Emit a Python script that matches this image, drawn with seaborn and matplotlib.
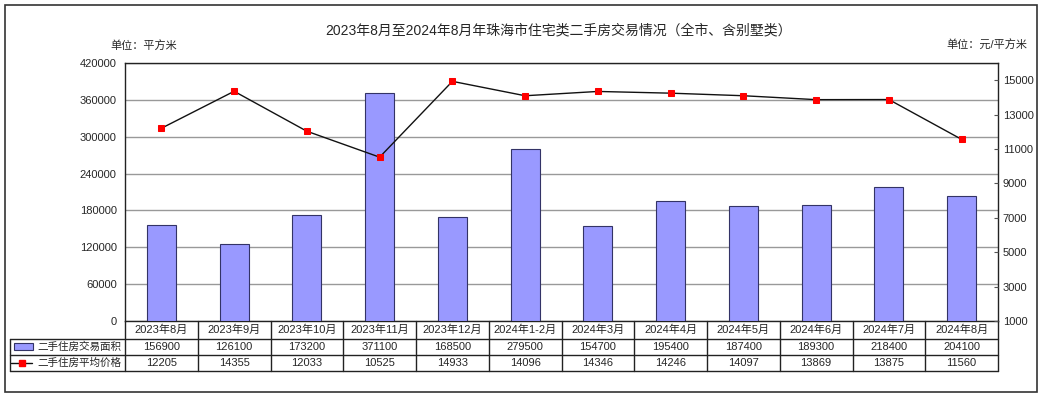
import numpy as np
import pandas as pd
import matplotlib
matplotlib.use('Agg')
import matplotlib.pyplot as plt
import matplotlib.transforms as mtransforms
import seaborn as sns
from matplotlib.patches import Rectangle
from matplotlib.lines import Line2D

months = ['2023年8月', '2023年9月', '2023年10月', '2023年11月', '2023年12月', '2024年1-2月',
          '2024年3月', '2024年4月', '2024年5月', '2024年6月', '2024年7月', '2024年8月']
area = [156900, 126100, 173200, 371100, 168500, 279500, 154700, 195400, 187400, 189300, 218400, 204100]
price = [12205, 14355, 12033, 10525, 14933, 14096, 14346, 14246, 14097, 13869, 13875, 11560]
area_label = '二手住房交易面积'
price_label = '二手住房平均价格'

sns.set_style('white')
plt.rcParams['font.family'] = ['Liberation Sans', 'Noto Sans CJK SC', 'DejaVu Sans']
plt.rcParams['font.size'] = 8

df = pd.DataFrame({'month': months, 'area': area, 'price': price})
n = len(months)

W, H = 1042, 397
fig = plt.figure(figsize=(W / 100, H / 100), dpi=100)
ax = fig.add_axes([125 / W, 1 - 321 / H, 873 / W, 258 / H])

sns.barplot(data=df, x='month', y='area', ax=ax, color='#9999ff', width=0.4,
            edgecolor='#333366', linewidth=0.8, saturation=1, zorder=3)
ax.set_ylim(0, 420000)
ax.set_yticks(np.arange(0, 420001, 60000))
ax.yaxis.grid(True, color='#999999', linewidth=1)
ax.set_axisbelow(True)
ax.set_xlim(-0.5, n - 0.5)
ax.set_xticks([])
ax.set_xlabel('')
ax.set_ylabel('')
ax.tick_params(axis='y', length=0, pad=6, labelsize=8)
for s in ax.spines.values():
    s.set_color('#222222')
    s.set_linewidth(1)

ax2 = ax.twinx()
sns.lineplot(x=np.arange(n), y=price, ax=ax2, color='#111111', linewidth=1,
             marker='s', markersize=4.5, markerfacecolor='#ff0000', markeredgecolor='#ff0000', zorder=4)
ax2.set_ylim(1000, 16000)
ax2.set_yticks(np.arange(1000, 15001, 2000))
ax2.tick_params(axis='y', direction='in', length=3, width=0.8, color='#555555', pad=3.5, labelsize=8)
ax2.set_xlim(-0.5, n - 0.5)
for s in ax2.spines.values():
    s.set_visible(False)

# data table under the plot, drawn by hand
trans = mtransforms.blended_transform_factory(ax.transData, ax.transAxes)
row_y = [-(339 - 321) / 258, -(355 - 321) / 258, -(371 - 321) / 258]
lab_left = (10 - 125) / 873
line_kw = dict(color='#222222', linewidth=1, clip_on=False)
for y in row_y:
    ax.plot([lab_left, 1], [y, y], transform=ax.transAxes, **line_kw)
for k in range(n + 1):
    ax.plot([k - 0.5, k - 0.5], [0, row_y[-1]], transform=trans, **line_kw)
ax.plot([lab_left, lab_left], [row_y[0], row_y[-1]], transform=ax.transAxes, **line_kw)

centers = [row_y[0] / 2, (row_y[0] + row_y[1]) / 2, (row_y[1] + row_y[2]) / 2]
for j, m in enumerate(months):
    ax.text(j, centers[0], m, transform=trans, ha='center', va='center', fontsize=8)
    ax.text(j, centers[1], str(area[j]), transform=trans, ha='center', va='center', fontsize=8)
    ax.text(j, centers[2], str(price[j]), transform=trans, ha='center', va='center', fontsize=8)

fig.text(37 / W, 1 - 347 / H, area_label, ha='left', va='center', fontsize=7.6)
fig.text(37 / W, 1 - 363 / H, price_label, ha='left', va='center', fontsize=7.6)

# legend glyphs in the row labels
fig.patches.append(Rectangle((14 / W, 1 - 350 / H), 19 / W, 7 / H,
                             transform=fig.transFigure, facecolor='#9999ff',
                             edgecolor='#333366', linewidth=0.8))
fig.lines.append(Line2D([11 / W, 32 / W], [1 - 363 / H, 1 - 363 / H],
                        transform=fig.transFigure, color='#111111', linewidth=1))
fig.lines.append(Line2D([21.5 / W], [1 - 363 / H], transform=fig.transFigure,
                        linestyle='none', marker='s', markersize=4.5,
                        markerfacecolor='#ff0000', markeredgecolor='#ff0000'))

fig.text(559 / W, 1 - 30 / H,
         '2023年8月至2024年8月年珠海市住宅类二手房交易情况（全市、含别墅类）',
         ha='center', va='center', fontsize=10)
fig.text(110 / W, 1 - 45 / H, '单位：平方米', ha='left', va='center', fontsize=8)
fig.text(1027 / W, 1 - 45 / H, '单位：元/平方米', ha='right', va='center', fontsize=8)

fig.patches.append(Rectangle((5 / W, 5 / H), 1032 / W, 387 / H,
                             transform=fig.transFigure, fill=False,
                             edgecolor='#333333', linewidth=1.2))

fig.savefig('out.png', dpi=100)
